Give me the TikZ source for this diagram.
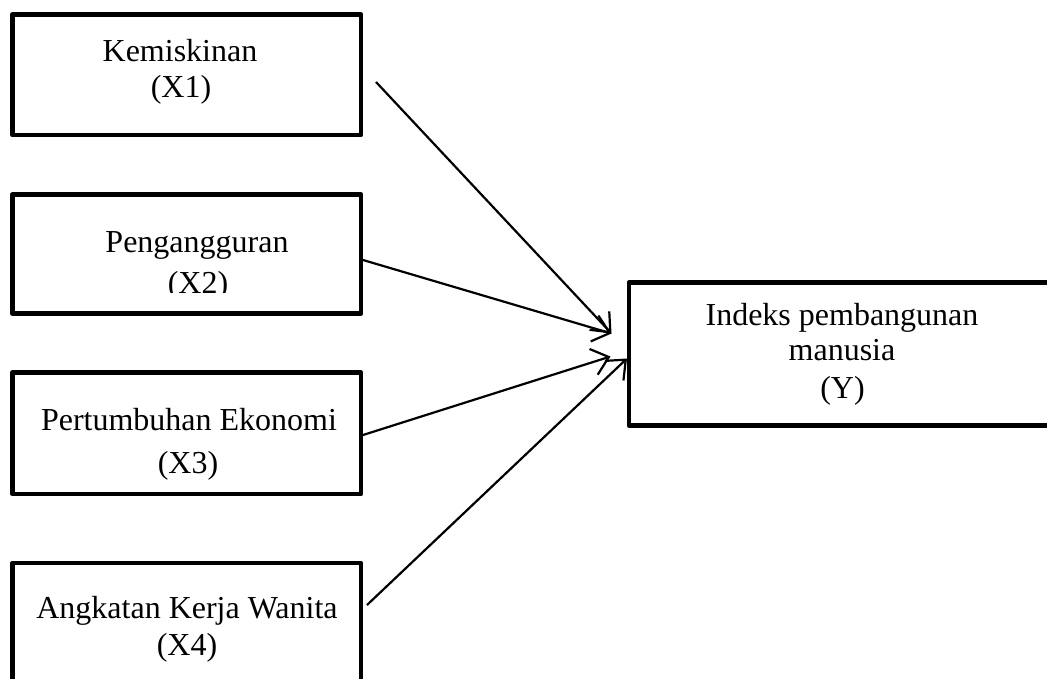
\documentclass[tikz,border=0pt]{standalone}
\usepackage{fontspec}
\setmainfont{Liberation Serif}
\usetikzlibrary{arrows.meta}
\begin{document}
\begin{tikzpicture}[x=1pt,y=-1pt,
  box/.style={draw, line width=4.8pt, line join=round, rectangle, inner sep=0pt, outer sep=0pt},
  txt/.style={anchor=base, inner sep=0pt, font=\fontsize{32}{36}\selectfont},
  link/.style={line width=2.2pt, -{Straight Barb[length=16pt,width=27pt,line width=2.2pt]}}]
\clip (0,0) rectangle (1047,679);
\fill[white] (0,0) rectangle (1047,679);
% boxes
\node[box, minimum width=348.5pt, minimum height=120.5pt] (x1) at (186.75,74.75) {};
\node[box, minimum width=348.5pt, minimum height=119pt] (x2) at (186.75,254) {};
\node[box, minimum width=348.5pt, minimum height=121.5pt] (x3) at (186.75,433.25) {};
\node[box, minimum width=348.5pt, minimum height=122pt] (x4) at (186.75,624) {};
\node[box, minimum width=431pt, minimum height=143pt] (y) at (844.5,354) {};
% texts
\node[txt] (x1a) at (180,62) {Kemiskinan};
\node[txt] (x1b) at (181,98) {(X1)};
\node[txt] (x2a) at (197,253) {Pengangguran};
\begin{scope}
\clip (0,0) rectangle (1047,292);
\node[txt] (x2b) at (198,293) {(X2)};
\end{scope}
\node[txt] (x3a) at (189,430) {Pertumbuhan Ekonomi};
\node[txt] (x3b) at (188,473) {(X3)};
\node[txt] (x4a) at (187,618) {Angkatan Kerja Wanita};
\node[txt] (x4b) at (187,655) {(X4)};
\node[txt] (ya) at (842,325) {Indeks pembangunan};
\node[txt] (yb) at (842,360) {manusia};
\node[txt] (yc) at (842.5,398) {(Y)};
% connector ends
\coordinate (s1) at (376,82);
\coordinate (s2) at (363,260);
\coordinate (s3) at (363,435);
\coordinate (s4) at (367,605);
\coordinate (t1) at (611.5,333.5);
\coordinate (t3) at (610.5,356.5);
\coordinate (t4) at (627,358.5);
\draw[link] (s1) -- (t1);
\draw[link] (s2) -- (t1);
\draw[link] (s3) -- (t3);
\draw[link] (s4) -- (t4);
\end{tikzpicture}
\end{document}
